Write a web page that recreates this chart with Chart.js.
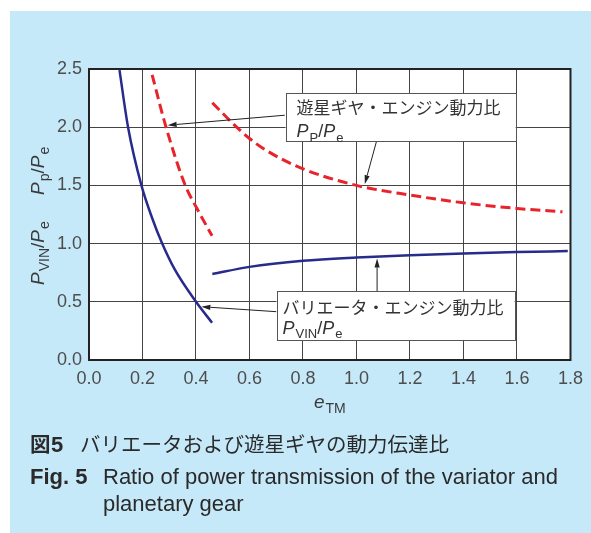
<!DOCTYPE html>
<html>
<head>
<meta charset="utf-8">
<script src="https://cdn.jsdelivr.net/npm/chart.js@4.4.0/dist/chart.umd.min.js"></script>
<style>
  html, body { margin: 0; padding: 0; background: #fff; }
  canvas { display: block; }
</style>
</head>
<body>
<canvas id="chart" width="591" height="533"></canvas>
<script>
// axis ticks
const xTicks = [0, 0.2, 0.4, 0.6, 0.8, 1.0, 1.2, 1.4, 1.6, 1.8];
const yTicks = [0, 0.5, 1.0, 1.5, 2.0, 2.5];

// variator / engine power ratio (solid blue)
const variatorLowX = [0.114, 0.146, 0.196, 0.236, 0.27, 0.32, 0.4, 0.46];
const variatorLowY = [2.49, 2.0, 1.5, 1.22, 1.02, 0.78, 0.5, 0.32];
const variatorHighX = [0.461, 0.6, 0.8, 1.0, 1.2, 1.4, 1.6, 1.79];
const variatorHighY = [0.738, 0.80, 0.852, 0.88, 0.90, 0.916, 0.927, 0.936];

// planetary gear / engine power ratio (dashed red)
const planetLowX = [0.236, 0.288, 0.36, 0.404, 0.46];
const planetLowY = [2.45, 2.0, 1.5, 1.30, 1.067];
const planetHighX = [0.461, 0.532, 0.6, 0.663, 0.806, 1.0, 1.2, 1.4, 1.6, 1.77];
const planetHighY = [2.21, 2.045, 1.903, 1.80, 1.637, 1.50, 1.417, 1.35, 1.302, 1.273];

const blue = '#272b8c';
const red = '#e8232b';
const panel = '#c6e9f9';
const latin = '"Liberation Sans", Arial, Helvetica, sans-serif';
const cjk = '"Noto Sans CJK JP", "Noto Sans", sans-serif';

const pts = (xs, ys) => xs.map((x, i) => ({ x: x, y: ys[i] }));

// callout boxes and arrows, in data coordinates
const planetNote = {
  box: [0.735, 2.292, 1.595, 1.88],
  title: '遊星ギヤ・エンジン動力比',
  formula: [{ t: 'P', it: true }, { t: 'P', sub: true }, { t: '/' }, { t: 'P', it: true }, { t: 'e', sub: true }],
  arrows: [[0.732, 2.103, 0.294, 2.017], [1.079, 1.914, 1.031, 1.511]]
};
const variatorNote = {
  box: [0.701, 0.592, 1.591, 0.172],
  title: 'バリエータ・エンジン動力比',
  formula: [{ t: 'P', it: true }, { t: 'VIN', sub: true }, { t: '/' }, { t: 'P', it: true }, { t: 'e', sub: true }],
  arrows: [[0.701, 0.415, 0.42, 0.458], [1.077, 0.592, 1.077, 0.873]]
};

function rich(ctx, parts, x, y, size) {
  let cx = x;
  parts.forEach(p => {
    const fs = p.sub ? Math.round(size * 0.72) : size;
    ctx.font = (p.it ? 'italic ' : '') + fs + 'px ' + latin;
    ctx.fillText(p.t, cx, y + (p.sub ? size * 0.24 : 0));
    cx += ctx.measureText(p.t).width + (p.it ? 1 : 0);
  });
  return cx - x;
}

function arrow(ctx, x0, y0, x1, y1) {
  const ang = Math.atan2(y1 - y0, x1 - x0);
  const len = 9, half = 2.6;
  ctx.beginPath();
  ctx.moveTo(x0, y0);
  ctx.lineTo(x1 - Math.cos(ang) * len, y1 - Math.sin(ang) * len);
  ctx.stroke();
  ctx.beginPath();
  ctx.moveTo(x1, y1);
  ctx.lineTo(x1 - Math.cos(ang) * len - Math.sin(ang) * half, y1 - Math.sin(ang) * len + Math.cos(ang) * half);
  ctx.lineTo(x1 - Math.cos(ang) * len + Math.sin(ang) * half, y1 - Math.sin(ang) * len - Math.cos(ang) * half);
  ctx.closePath();
  ctx.fill();
}

function drawNote(chart, note, padX, line1Y, line2Y) {
  const { ctx, scales: { x, y } } = chart;
  const bx = x.getPixelForValue(note.box[0]), by = y.getPixelForValue(note.box[1]);
  const bw = x.getPixelForValue(note.box[2]) - bx, bh = y.getPixelForValue(note.box[3]) - by;
  ctx.save();
  ctx.strokeStyle = '#222';
  ctx.fillStyle = '#222';
  ctx.lineWidth = 1;
  note.arrows.forEach(a => arrow(ctx,
    x.getPixelForValue(a[0]), y.getPixelForValue(a[1]),
    x.getPixelForValue(a[2]), y.getPixelForValue(a[3])));
  ctx.fillStyle = '#fff';
  ctx.fillRect(bx, by, bw, bh);
  ctx.strokeStyle = '#555';
  ctx.strokeRect(Math.round(bx) + 0.5, Math.round(by) + 0.5, Math.round(bw), Math.round(bh));
  ctx.fillStyle = '#333';
  ctx.textBaseline = 'middle';
  ctx.font = '17px ' + cjk;
  ctx.fillText(note.title, bx + padX, by + line1Y);
  ctx.textBaseline = 'alphabetic';
  rich(ctx, note.formula, bx + padX, by + line2Y, 18);
  ctx.restore();
}

const decor = {
  id: 'decor',
  beforeDraw(chart) {
    const { ctx, chartArea: a } = chart;
    ctx.save();
    ctx.fillStyle = '#fff';
    ctx.fillRect(0, 0, chart.width, chart.height);
    ctx.fillStyle = panel;
    ctx.fillRect(10, 11, chart.width - 10, chart.height - 11);
    ctx.fillStyle = '#fff';
    ctx.fillRect(a.left, a.top, a.right - a.left, a.bottom - a.top);
    ctx.restore();
  },
  afterDraw(chart) {
    const { ctx, chartArea: a } = chart;
    ctx.save();
    ctx.strokeStyle = '#222';
    ctx.lineWidth = 2;
    ctx.strokeRect(a.left, a.top, a.right - a.left, a.bottom - a.top);
    ctx.restore();

    drawNote(chart, planetNote, 11, 14, 44);
    drawNote(chart, variatorNote, 6, 16, 43);

    ctx.save();
    ctx.fillStyle = '#3a3a3a';
    ctx.textBaseline = 'alphabetic';
    // x axis title
    rich(ctx, [{ t: 'e', it: true }, { t: 'TM', sub: true }], 314, 408, 19);
    // y axis title, rotated
    ctx.translate(44, 285);
    ctx.rotate(-Math.PI / 2);
    rich(ctx, [{ t: 'P', it: true }, { t: 'VIN', sub: true }, { t: '/' }, { t: 'P', it: true }, { t: 'e', sub: true }], 0, 0, 19);
    rich(ctx, [{ t: 'P', it: true }, { t: 'p', sub: true }, { t: '/' }, { t: 'P', it: true }, { t: 'e', sub: true }], 90, 0, 19);
    ctx.restore();

    // caption
    ctx.save();
    ctx.fillStyle = '#2a2a2a';
    ctx.textBaseline = 'alphabetic';
    ctx.font = 'bold 20.5px ' + cjk;
    ctx.fillText('図', 30, 452);
    ctx.font = 'bold 22px ' + latin;
    ctx.fillText('5', 51, 452);
    ctx.font = '20.5px ' + cjk;
    ctx.fillText('バリエータおよび遊星ギヤの動力伝達比', 80, 452);
    ctx.font = 'bold 22px ' + latin;
    ctx.fillText('Fig. 5', 30, 484);
    ctx.font = '22px ' + latin;
    ctx.fillText('Ratio of power transmission of the variator and', 103, 484);
    ctx.fillText('planetary gear', 103, 511);
    ctx.restore();
  }
};

const line = (data, color, dashed) => ({
  data: data,
  borderColor: color,
  borderWidth: dashed ? 3 : 2.5,
  borderDash: dashed ? [10, 5] : [],
  pointRadius: 0,
  cubicInterpolationMode: 'monotone',
  fill: false
});

new Chart(document.getElementById('chart').getContext('2d'), {
  type: 'line',
  data: {
    datasets: [
      line(pts(variatorLowX, variatorLowY), blue, false),
      line(pts(variatorHighX, variatorHighY), blue, false),
      line(pts(planetLowX, planetLowY), red, true),
      line(pts(planetHighX, planetHighY), red, true)
    ]
  },
  options: {
    responsive: false,
    animation: false,
    layout: { padding: { left: 0, top: 69, right: 19, bottom: 143 } },
    plugins: { legend: { display: false }, tooltip: { enabled: false } },
    scales: {
      x: {
        type: 'linear',
        min: 0,
        max: 1.8,
        afterBuildTicks: s => { s.ticks = xTicks.map(v => ({ value: v })); },
        afterFit: s => { s.height = 30; },
        grid: { color: '#444', lineWidth: 1, drawTicks: false },
        border: { display: false },
        ticks: {
          padding: 8,
          maxRotation: 0,
          autoSkip: false,
          color: '#4d4d4d',
          font: { family: latin, size: 18 },
          callback: v => v.toFixed(1)
        }
      },
      y: {
        type: 'linear',
        min: 0,
        max: 2.5,
        afterBuildTicks: s => { s.ticks = yTicks.map(v => ({ value: v })); },
        afterFit: s => { s.width = 89; },
        grid: { color: '#444', lineWidth: 1, drawTicks: false },
        border: { display: false },
        ticks: {
          padding: 7,
          autoSkip: false,
          color: '#4d4d4d',
          font: { family: latin, size: 18 },
          callback: v => v.toFixed(1)
        }
      }
    }
  },
  plugins: [decor]
});
</script>
</body>
</html>
